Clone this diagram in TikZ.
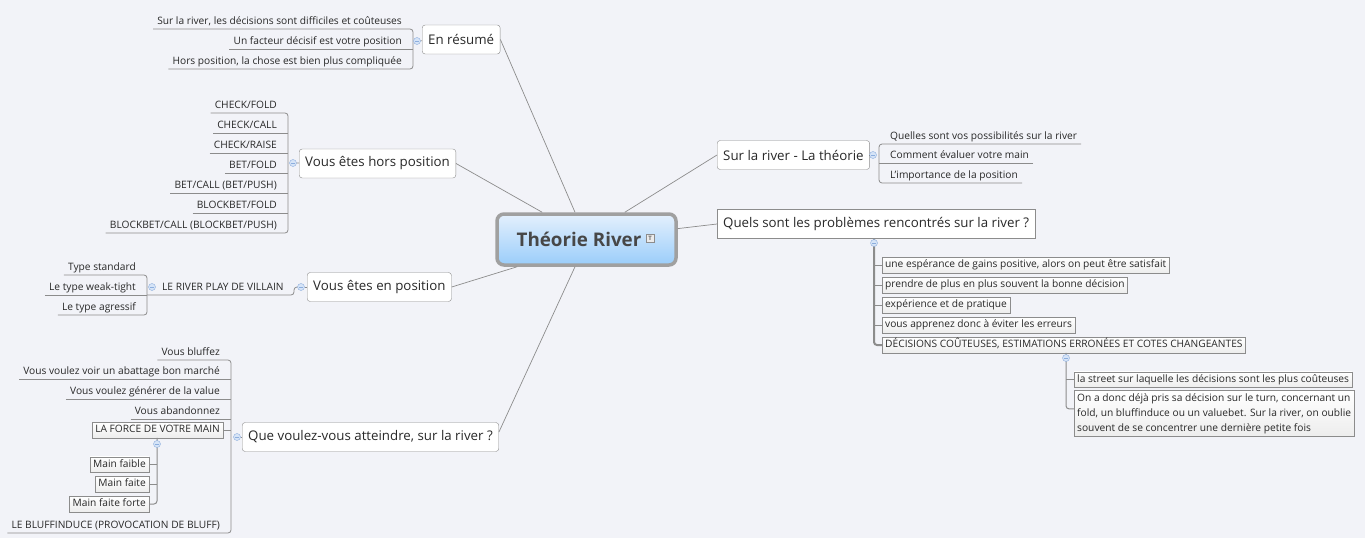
\documentclass[tikz,border=0pt]{standalone}
\usepackage{fontspec}
\setmainfont{Open Sans}
\usetikzlibrary{calc}

\definecolor{bgcol}{RGB}{242,243,248}
\definecolor{linecol}{RGB}{140,140,140}
\definecolor{txtcol}{RGB}{40,40,40}
\definecolor{foldfill}{RGB}{214,228,247}
\definecolor{foldline}{RGB}{140,174,222}
\definecolor{cenring}{RGB}{160,160,160}
\definecolor{centop}{RGB}{228,240,253}
\definecolor{cenbot}{RGB}{154,205,250}

\newcommand{\leaffont}{\fontsize{10.2}{15}\selectfont}
\newcommand{\topicfont}{\fontsize{13.3}{16}\selectfont}

\begin{document}
\begin{tikzpicture}[x=1pt,y=-1pt,
    every node/.style={text=txtcol},
    central/.style={draw=cenring, line width=3.5, rounded corners=7, top color=centop, bottom color=cenbot,
        minimum width=179, minimum height=51, font=\fontsize{18.8}{22}\selectfont\bfseries, text=black!72},
    topic/.style={draw=linecol, fill=white, rounded corners=3, font=\topicfont, inner xsep=6, minimum height=29},
    sqtopic/.style={topic, rounded corners=0},
    leafbase/.style={font=\leaffont, inner xsep=4, inner ysep=2},
    leaf/.style={leafbase, text height=7.5, text depth=2},
    boxbase/.style={draw=linecol, top color=white, bottom color=black!7, inner xsep=3},
    boxleaf/.style={leaf, boxbase, inner ysep=3},
    textbox/.style={leafbase, boxbase, align=left, inner ysep=3},
    fold/.style={circle, draw=foldline, fill=foldfill, inner sep=0, minimum size=7,
        path picture={\draw[foldline, line width=0.6] ([xshift=-2pt]path picture bounding box.center) -- ([xshift=2pt]path picture bounding box.center);}},
    link/.style={draw=linecol, line width=0.7},
    brace/.style={draw=linecol, line width=0.8, rounded corners=3},
    trunk/.style={draw=linecol, line width=1, rounded corners=3}
]
    \useasboundingbox (0,0) rectangle (1365,538);
    \fill[bgcol] (0,0) rectangle (1365,538);

    % centre
    \node[central] (cen) at (586.5,239.5) {Théorie River\kern15pt};
    \node[draw=black!45, fill=black!8, inner sep=0, minimum size=8, font=\fontsize{6}{6}\selectfont\bfseries, text=black!60] (ticon) at (650,238) {T};

    % main topics
    \node[topic, anchor=west] (res) at (422,39.5) {En résumé};
    \node[topic, anchor=west] (hors) at (299,163.5) {Vous êtes hors position};
    \node[topic, anchor=west] (enpos) at (307,287) {Vous êtes en position};
    \node[topic, anchor=west] (que) at (242,437) {Que voulez-vous atteindre, sur la river ?};
    \node[topic, anchor=west] (theo) at (717,155) {Sur la river - La théorie};
    \node[sqtopic, anchor=west] (prob) at (717,224) {Quels sont les problèmes rencontrés sur la river ?};

    \draw[link] (res.east) -- ($(cen.north west)!0.437!(cen.north east)$);
    \draw[link] (hors.east) -- ($(cen.north west)!0.257!(cen.north east)$);
    \draw[link] (theo.west) -- ($(cen.north west)!0.71!(cen.north east)$);
    \draw[link] (prob.west) -- ($(cen.north east)!0.3!(cen.south east)$);
    \draw[link] (enpos.east) -- ($(cen.south west)!0.12!(cen.south east)$);
    \draw[link] ([yshift=5pt]que.east) -- ($(cen.south west)!0.437!(cen.south east)$);

    % En résumé
    \coordinate (rb) at (413,0);
    \node[leaf, anchor=south east] (r1) at (406,29) {Sur la river, les décisions sont difficiles et coûteuses};
    \node[leaf, anchor=south east] (r2) at (406,49) {Un facteur décisif est votre position};
    \node[leaf, anchor=south east] (r3) at (406,69) {Hors position, la chose est bien plus compliquée};
    \draw[brace] (r1.south west) -- (r1.south -| rb) -- (r3.south -| rb) -- (r3.south west);
    \draw[link] (r2.south west) -- (r2.south -| rb);
    \node[fold] (rc) at (417,41) {};
    \draw[link] (rc) -- (res);

    % Vous êtes hors position
    \coordinate (hb) at (288,0);
    \node[leaf, anchor=south east] (h1) at (281,113) {CHECK/FOLD};
    \node[leaf, anchor=south east] (h2) at (281,133) {CHECK/CALL};
    \node[leaf, anchor=south east] (h3) at (281,153) {CHECK/RAISE};
    \node[leaf, anchor=south east] (h4) at (281,173) {BET/FOLD};
    \node[leaf, anchor=south east] (h5) at (281,193) {BET/CALL (BET/PUSH)};
    \node[leaf, anchor=south east] (h6) at (281,213) {BLOCKBET/FOLD};
    \node[leaf, anchor=south east] (h7) at (281,233) {BLOCKBET/CALL (BLOCKBET/PUSH)};
    \draw[brace] (h1.south west) -- (h1.south -| hb) -- (h7.south -| hb) -- (h7.south west);
    \draw[link] (h2.south west) -- (h2.south -| hb);
    \draw[link] (h3.south west) -- (h3.south -| hb);
    \draw[link] (h4.south west) -- (h4.south -| hb);
    \draw[link] (h5.south west) -- (h5.south -| hb);
    \draw[link] (h6.south west) -- (h6.south -| hb);
    \node[fold] (hc) at (293,163) {};
    \draw[link] (hc) -- (hors);

    % Vous êtes en position
    \coordinate (vb) at (147,0);
    \coordinate (vk) at (294,0);
    \node[leaf, anchor=south west] (vil) at (158,295) {LE RIVER PLAY DE VILLAIN};
    \node[fold] (ec) at (301,287) {};
    \draw[brace] (vil.south -| vb) -- (vil.south -| vk) -- (vk |- ec) -- (ec.west);
    \draw[link] (ec) -- (enpos);
    \node[leaf, anchor=south east] (v1) at (140,275) {Type standard};
    \node[leaf, anchor=south east] (v2) at (140,295) {Le type weak-tight};
    \node[leaf, anchor=south east] (v3) at (140,315) {Le type agressif};
    \draw[brace] (v1.south west) -- (v1.south -| vb) -- (v3.south -| vb) -- (v3.south west);
    \draw[link] (v2.south west) -- (v2.south -| vb);
    \node[fold] (vc) at (152,287) {};

    % Que voulez-vous atteindre
    \coordinate (qb) at (231,0);
    \node[leaf, anchor=south east] (q1) at (224,360) {Vous bluffez};
    \node[leaf, anchor=south east] (q2) at (224,379) {Vous voulez voir un abattage bon marché};
    \node[leaf, anchor=south east] (q3) at (224,399) {Vous voulez générer de la value};
    \node[leaf, anchor=south east] (q4) at (224,419) {Vous abandonnez};
    \node[boxleaf, anchor=east] (force) at (223,430) {LA FORCE DE VOTRE MAIN};
    \node[leaf, anchor=south east] (q6) at (224,533) {LE BLUFFINDUCE (PROVOCATION DE BLUFF)};
    \draw[brace] (q1.south west) -- (q1.south -| qb) -- (q6.south -| qb) -- (q6.south west);
    \draw[link] (q2.south west) -- (q2.south -| qb);
    \draw[link] (q3.south west) -- (q3.south -| qb);
    \draw[link] (q4.south west) -- (q4.south -| qb);
    \draw[link] (force.east) -- (force -| qb);
    \node[fold] (qc) at (237,437) {};
    \draw[link] (qc) -- (que);

    \node[boxleaf, anchor=east] (m1) at (149,464.5) {Main faible};
    \node[boxleaf, anchor=east] (m2) at (149,484) {Main faite};
    \node[boxleaf, anchor=east] (m3) at (149,504) {Main faite forte};
    \coordinate (fk) at (157,0);
    \draw[trunk] (fk |- force.south) -- (fk |- m3) -- (m3.east);
    \draw[link] (m1.east) -- (m1 -| fk);
    \draw[link] (m2.east) -- (m2 -| fk);
    \node[fold] (fc) at (157,444) {};

    % Sur la river - La théorie
    \coordinate (tb) at (879,0);
    \node[leaf, anchor=south west] (t1) at (886,144) {Quelles sont vos possibilités sur la river};
    \node[leaf, anchor=south west] (t2) at (886,163) {Comment évaluer votre main};
    \node[leaf, anchor=south west] (t3) at (886,183) {L'importance de la position};
    \draw[brace] (t1.south east) -- (t1.south -| tb) -- (t3.south -| tb) -- (t3.south east);
    \draw[link] (t2.south east) -- (t2.south -| tb);
    \node[fold] (tc) at (873,155) {};
    \draw[link] (theo) -- (tc);

    % Quels sont les problèmes
    \node[boxleaf, anchor=west] (p1) at (882,265) {une espérance de gains positive, alors on peut être satisfait};
    \node[boxleaf, anchor=west] (p2) at (882,285) {prendre de plus en plus souvent la bonne décision};
    \node[boxleaf, anchor=west] (p3) at (882,305) {expérience et de pratique};
    \node[boxleaf, anchor=west] (p4) at (882,325) {vous apprenez donc à éviter les erreurs};
    \node[boxleaf, anchor=west] (p5) at (882,345) {DÉCISIONS COÛTEUSES, ESTIMATIONS ERRONÉES ET COTES CHANGEANTES};
    \coordinate (pk) at (874,0);
    \draw[trunk, line width=2] (pk |- prob.south) -- (pk |- p5) -- (p5.west);
    \draw[link] (p1.west -| pk) -- (p1.west);
    \draw[link] (p2.west -| pk) -- (p2.west);
    \draw[link] (p3.west -| pk) -- (p3.west);
    \draw[link] (p4.west -| pk) -- (p4.west);
    \node[fold] (pc) at (874,243) {};

    \node[boxleaf, anchor=west] (d1) at (1074,379.5) {la street sur laquelle les décisions sont les plus coûteuses};
    \node[textbox, anchor=north west] (d2) at (1074,390) {On a donc déjà pris sa décision sur le turn, concernant un\\fold, un bluffinduce ou un valuebet. Sur la river, on oublie\\souvent de se concentrer une dernière petite fois};
    \coordinate (d2t) at ($(d2.west)+(0,-4.5)$);
    \coordinate (dk) at (1066,0);
    \draw[trunk] (dk |- p5.south) -- (dk |- d2t) -- (d2t);
    \draw[link] (d1.west -| dk) -- (d1.west);
    \node[fold] (dc) at (1066,358) {};
\end{tikzpicture}
\end{document}
